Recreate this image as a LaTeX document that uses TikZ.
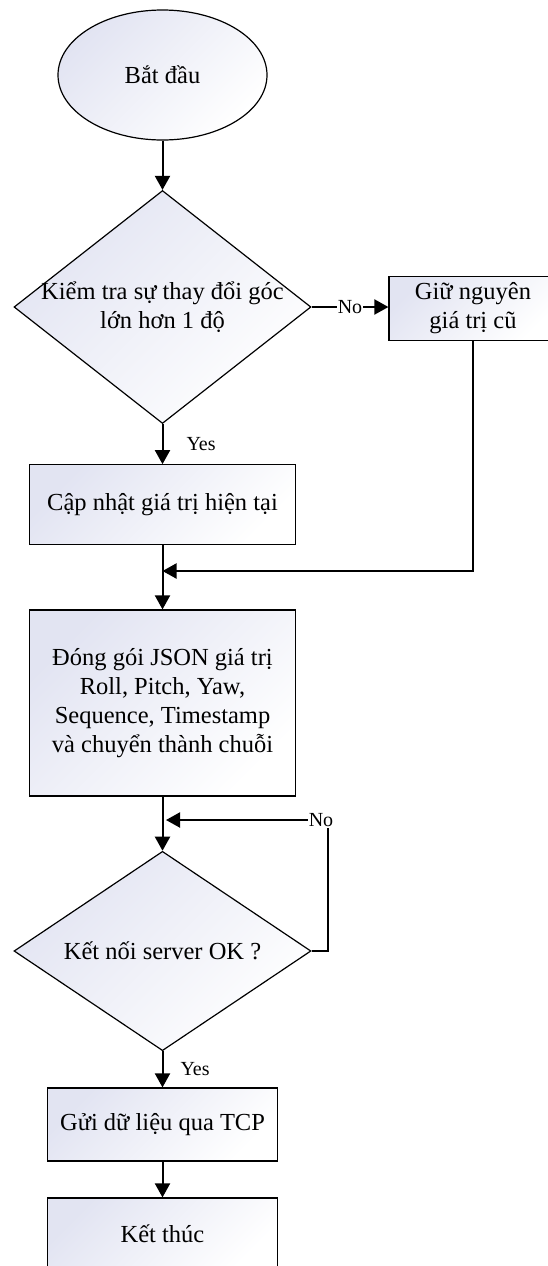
\documentclass[tikz,border=0pt]{standalone}
\usepackage{fontspec}
\setmainfont{Liberation Serif}
\usetikzlibrary{shapes.geometric,arrows.meta}
\definecolor{boxtop}{RGB}{226,228,242}
\tikzset{
  fillshade/.style={top color=boxtop, bottom color=white, shading angle=45},
  term/.style={ellipse, draw, line width=1.2bp, fillshade, inner sep=0pt,
    minimum width=209bp, minimum height=130bp, font=\fontsize{24.5bp}{29bp}\selectfont},
  box/.style={rectangle, draw, line width=1.2bp, fillshade, inner sep=0pt,
    align=center, font=\fontsize{24.5bp}{29bp}\selectfont},
  decision/.style={diamond, draw, line width=1.2bp, fillshade, inner sep=-4bp,
    align=center, font=\fontsize{24.5bp}{29bp}\selectfont},
  flow/.style={line width=2bp, -{Triangle[length=14bp,width=15bp]}},
  lbl/.style={inner sep=1bp, font=\fontsize{20bp}{24bp}\selectfont}
}
\begin{document}
\begin{tikzpicture}[x=1bp, y=-1bp, line join=miter]
  \useasboundingbox (0,0) rectangle (548,1266);
  \clip (0,0) rectangle (548,1266);
  % 開始
  \node[term] (start) at (162.5,75) {Bắt đầu};
  % 角度の判定
  \node[decision, shape aspect=1.27, minimum width=297bp, minimum height=233bp]
    (check) at (162.5,307) {Kiểm tra sự thay đổi góc\\lớn hơn 1 độ};
  \node[box, minimum width=168bp, minimum height=63.5bp] (keep) at (473,308.5) {Giữ nguyên\\giá trị cũ};
  \node[box, minimum width=266bp, minimum height=79.5bp] (update) at (162.5,504.5) {Cập nhật giá trị hiện tại};
  % JSON
  \node[box, minimum width=266bp, minimum height=186bp] (pack) at (162.5,703)
    {Đóng gói JSON giá trị\\Roll, Pitch, Yaw,\\Sequence, Timestamp\\và chuyển thành chuỗi};
  % 接続の判定
  \node[decision, minimum width=297bp, minimum height=186bp] (conn) at (162.5,951) {Kết nối server OK ?};
  \node[box, minimum width=230bp, minimum height=73bp] (send) at (162.5,1124.5) {Gửi dữ liệu qua TCP};
  \node[box, minimum width=230bp, minimum height=72bp] (finish) at (162.5,1234) {Kết thúc};
  % 合流点
  \coordinate (join1) at (162.5,571);
  \coordinate (loopc) at (328,820);
  \coordinate (join2) at (166,820);
  % --- 矢印 ---
  \draw[flow] (start) -- (check);
  \draw[flow] (check.east) -- node[lbl, fill=white] (no1) {No} (check.east -| keep.west);
  \draw[flow] (check) -- node[lbl, right=22bp] (yes1) {Yes} (update);
  \draw[flow] (keep.south) |- (join1);
  \draw[flow] (update) -- (pack);
  \draw[flow] (pack) -- (conn);
  % 再試行ループ
  \draw[flow] (conn.east) -| (loopc) -- (join2);
  \node[lbl, fill=white] (no2) at ([xshift=-7bp]loopc) {No};
  \draw[flow] (conn) -- node[lbl, right=16bp] (yes2) {Yes} (send);
  \draw[flow] (send) -- (finish);
\end{tikzpicture}
\end{document}
